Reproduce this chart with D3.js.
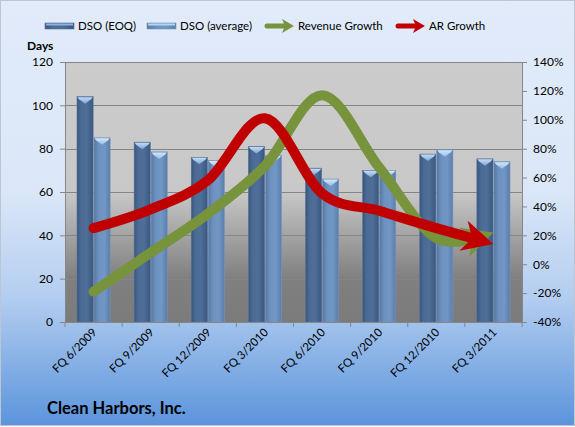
<!DOCTYPE html>
<html><head><meta charset="utf-8">
<script src="https://cdn.jsdelivr.net/npm/d3@7"></script>
<style>
html,body{margin:0;padding:0;background:#fff;}
svg{display:block;font-family:Lato, "Open Sans", sans-serif;}
</style></head>
<body>
<svg id="c" width="575" height="427"></svg>
<script>
const categories = ["FQ 6/2009","FQ 9/2009","FQ 12/2009","FQ 3/2010","FQ 6/2010","FQ 9/2010","FQ 12/2010","FQ 3/2011"];
const dsoEOQ = [104, 83, 76, 81, 71, 70, 77.5, 75.3];
const dsoAvg = [85, 78.5, 74.5, 77, 66, 70, 79.5, 74];
const revenueGrowth = [-19, 8, 35, 68, 117, 67, 18, 22];
const arGrowth = [25, 38, 58, 101, 49, 37, 25, 14];
const leftTicks = [0, 20, 40, 60, 80, 100, 120];
const rightTicks = [-40, -20, 0, 20, 40, 60, 80, 100, 120, 140];
const seriesNames = ["DSO (EOQ)", "DSO (average)", "Revenue Growth", "AR Growth"];
const title = "Clean Harbors, Inc.";

const svg = d3.select("#c");
const defs = svg.append("defs");

function lin(id, x1,y1,x2,y2, stops){
  const g = defs.append("linearGradient").attr("id",id)
    .attr("x1",x1).attr("y1",y1).attr("x2",x2).attr("y2",y2);
  stops.forEach(s=>g.append("stop").attr("offset",s[0]).attr("stop-color",s[1]));
}
lin("bgGrad",0,0,0,1,[[0,"#e1ebfa"],[0.45,"#dbe7f8"],[0.7,"#b3cdf0"],[1,"#5b94dc"]]);
lin("plotGrad",0,0,0,1,[[0,"#cccccc"],[0.5,"#c8c8c8"],[0.83,"#808080"],[1,"#7b7b7b"]]);
lin("eoqGrad",0,0,1,0,[[0,"#37567e"],[0.25,"#4b6b95"],[0.6,"#4e6f99"],[1,"#3a5880"]]);
lin("avgGrad",0,0,1,0,[[0,"#5677a4"],[0.3,"#6e92c0"],[0.65,"#7197c5"],[1,"#5a7dab"]]);
lin("capEoq",0,0,0,1,[[0,"#c3dcf6"],[1,"#7fa4d2"]]);
lin("capAvg",0,0,0,1,[[0,"#d3e8fb"],[1,"#94bbe6"]]);

// background
svg.append("rect").attr("x",0.5).attr("y",0.5).attr("width",574).attr("height",425)
  .attr("fill","url(#bgGrad)").attr("stroke","#bcc6d3");

const plot = {l:65, r:522, t:62, b:322};
const x = d3.scaleBand().domain(categories).range([plot.l, plot.r]);
const bw = x.bandwidth();
const xs = d3.scaleBand().domain(["eoq","avg"]).range([bw*0.21, bw*0.79]).paddingInner(0.05);
const yL = d3.scaleLinear().domain([0,120]).range([plot.b, plot.t]);
const yR = d3.scaleLinear().domain([-40,140]).range([plot.b, plot.t]);

svg.append("rect").attr("x",plot.l).attr("y",plot.t).attr("width",plot.r-plot.l).attr("height",plot.b-plot.t)
  .attr("fill","url(#plotGrad)");

// gridlines
svg.append("g").selectAll("line").data(leftTicks.slice(1)).join("line")
  .attr("x1",plot.l).attr("x2",plot.r).attr("y1",d=>Math.round(yL(d))+0.5).attr("y2",d=>Math.round(yL(d))+0.5)
  .attr("stroke","#858585").attr("stroke-width",1);

// bars
const barData = [];
categories.forEach((c,i)=>{
  barData.push({c, key:"eoq", v:dsoEOQ[i]});
  barData.push({c, key:"avg", v:dsoAvg[i]});
});
const bars = svg.append("g").selectAll("g").data(barData).join("g");
bars.append("rect")
  .attr("x",d=>x(d.c)+xs(d.key)).attr("y",d=>yL(d.v))
  .attr("width",xs.bandwidth()).attr("height",d=>yL(0)-yL(d.v))
  .attr("fill",d=>d.key==="eoq"?"url(#eoqGrad)":"url(#avgGrad)")
  .attr("stroke",d=>d.key==="eoq"?"#5a7397":"#7a94b8").attr("stroke-width",0.6);
bars.append("path")
  .attr("d",d=>{
    const x0=x(d.c)+xs(d.key), x1=x0+xs.bandwidth(), y0=yL(d.v);
    return `M${x0+0.5},${y0+0.5}L${x1-0.5},${y0+0.5}L${x1-2},${y0+2.5}L${(x0+x1)/2},${y0+7}L${x0+2},${y0+2.5}Z`;
  })
  .attr("fill",d=>d.key==="eoq"?"url(#capEoq)":"url(#capAvg)");

// axes
const axisColor = "#868686";
const gl = svg.append("g").attr("transform",`translate(${plot.l},0)`)
  .call(d3.axisLeft(yL).tickValues(leftTicks).tickSize(5).tickPadding(7));
const gr = svg.append("g").attr("transform",`translate(${plot.r},0)`)
  .call(d3.axisRight(yR).tickValues(rightTicks).tickSize(5).tickPadding(6).tickFormat(d=>d+"%"));
const gb = svg.append("g").attr("transform",`translate(0,${plot.b})`)
  .call(d3.axisBottom(x).tickSize(0).tickFormat(""));
[gl,gr,gb].forEach(g=>{
  g.select(".domain").attr("stroke",axisColor);
  g.selectAll(".tick line").attr("stroke",axisColor);
  g.selectAll("text").attr("font-family","Lato, sans-serif").attr("font-size",12).attr("fill","#000");
});
// category boundary ticks
svg.append("g").selectAll("line").data(categories.concat(["__end"])).join("line")
  .attr("x1",(d,i)=>plot.l+i*bw).attr("x2",(d,i)=>plot.l+i*bw)
  .attr("y1",plot.b).attr("y2",plot.b+5).attr("stroke",axisColor);
// category labels
svg.append("g").selectAll("text").data(categories).join("text")
  .attr("transform",d=>`translate(${x(d)+bw/2+4},${plot.b+11}) rotate(-45)`)
  .attr("text-anchor","end").attr("font-size",11.5).attr("fill","#000").text(d=>d);

svg.append("text").attr("x",27).attr("y",50).attr("font-weight","bold").attr("font-size",12).text("Days");

// lines
const cx = c => x(c)+bw/2;
const lineGen = d3.line().curve(d3.curveCatmullRom.alpha(0));
function arrowLine(vals, color){
  const pts = vals.map((v,i)=>[cx(categories[i]), yR(v)]);
  const p = svg.append("path").attr("d",lineGen(pts)).attr("fill","none")
    .attr("stroke",color).attr("stroke-width",10).attr("stroke-linecap","round");
  const node = p.node();
  const len = node.getTotalLength();
  const L = 31, W = 15.5, notch = 9;
  p.attr("stroke-dasharray",`${len-(L-notch)+1} ${len+20}`);
  const tip = node.getPointAtLength(len);
  const back = node.getPointAtLength(len-18);
  let ux = tip.x-back.x, uy = tip.y-back.y; const m = Math.hypot(ux,uy); ux/=m; uy/=m;
  const nx = -uy, ny = ux;
  const bx = tip.x-L*ux, by = tip.y-L*uy;
  const head = [[tip.x,tip.y],[bx+W*nx,by+W*ny],[tip.x-(L-notch)*ux,tip.y-(L-notch)*uy],[bx-W*nx,by-W*ny]];
  svg.append("path").attr("d","M"+head.map(q=>q.join(",")).join("L")+"Z").attr("fill",color);
}
arrowLine(revenueGrowth, "#77933c");
arrowLine(arGrowth, "#c00000");

// legend
const lg = svg.append("g");
const legendItems = [
  {name:seriesNames[0], type:"bar", fill:"url(#eoqGrad)", sx:45, tx:78},
  {name:seriesNames[1], type:"bar", fill:"url(#avgGrad)", sx:147, tx:180},
  {name:seriesNames[2], type:"arrow", fill:"#77933c", sx:265, tx:298},
  {name:seriesNames[3], type:"arrow", fill:"#c00000", sx:396, tx:429}
];
legendItems.forEach(it=>{
  if(it.type==="bar"){
    lg.append("rect").attr("x",it.sx).attr("y",23).attr("width",29).attr("height",6)
      .attr("fill",it.fill).attr("stroke",it.name==="DSO (EOQ)"?"#5a7397":"#7a94b8").attr("stroke-width",0.6);
    lg.append("rect").attr("x",it.sx+1).attr("y",23.5).attr("width",27).attr("height",2)
      .attr("fill",it.name==="DSO (EOQ)"?"#8fb1dc":"#b6d5f5");
  } else {
    lg.append("line").attr("x1",it.sx+2).attr("x2",it.sx+20).attr("y1",26).attr("y2",26)
      .attr("stroke",it.fill).attr("stroke-width",5).attr("stroke-linecap","round");
    lg.append("path").attr("d",`M${it.sx+29},26L${it.sx+17},19L${it.sx+20},26L${it.sx+17},33Z`).attr("fill",it.fill);
  }
  lg.append("text").attr("x",it.tx).attr("y",30).attr("font-size",11.5).attr("fill","#000").text(it.name);
});

svg.append("text").attr("x",47).attr("y",414).attr("font-weight","bold").attr("font-size",16.5)
  .attr("fill","#000").text(title);
</script>
</body></html>
